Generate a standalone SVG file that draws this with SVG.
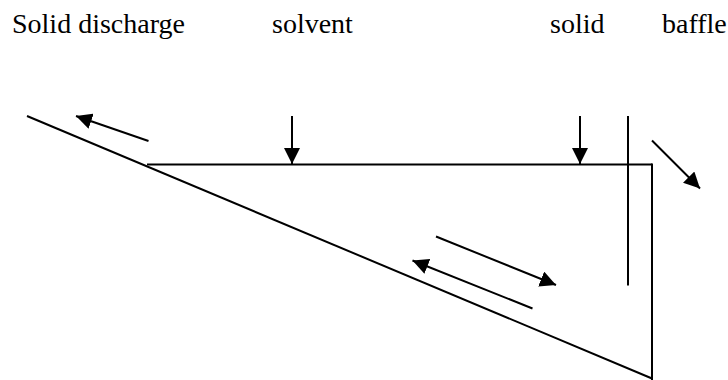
<svg xmlns="http://www.w3.org/2000/svg" width="728" height="380" viewBox="0 0 728 380">
<style>
text{font-family:"Liberation Serif","Times New Roman",serif;font-size:28px;fill:#000}
line{stroke:#000;stroke-width:2;fill:none}
.a{marker-end:url(#h)}
</style>
<defs><marker id="h" markerUnits="userSpaceOnUse" markerWidth="17" markerHeight="16" refX="16" refY="8" orient="auto"><path d="M0,0L16,8L0,16Z" fill="#000"/></marker></defs>
<rect width="728" height="380" fill="#fff"/>
<g id="label-solid-discharge"><text x="12" y="33">Solid discharge</text></g>
<g id="label-solvent"><text x="272" y="33">solvent</text></g>
<g id="label-solid"><text x="550" y="33">solid</text></g>
<g id="label-baffle"><text x="662" y="33">baffle</text></g>
<g id="vessel">
<line x1="147" y1="164.500" x2="652" y2="164.500"/>
<line x1="652" y1="163.500" x2="652" y2="380"/>
<line x1="27" y1="116" x2="652" y2="378.500"/>
</g>
<g id="baffle"><line x1="628" y1="116" x2="628" y2="285.500"/></g>
<g id="connectors">
<line class="a" x1="148.500" y1="141" x2="76" y2="116"/>
<line class="a" x1="292" y1="116" x2="292" y2="164"/>
<line class="a" x1="580" y1="116" x2="580" y2="164"/>
<line class="a" x1="652" y1="140.500" x2="700" y2="188.500"/>
<line class="a" x1="436" y1="236.500" x2="556" y2="285"/>
<line class="a" x1="532.500" y1="308.500" x2="412.500" y2="260.500"/>
</g>
</svg>
